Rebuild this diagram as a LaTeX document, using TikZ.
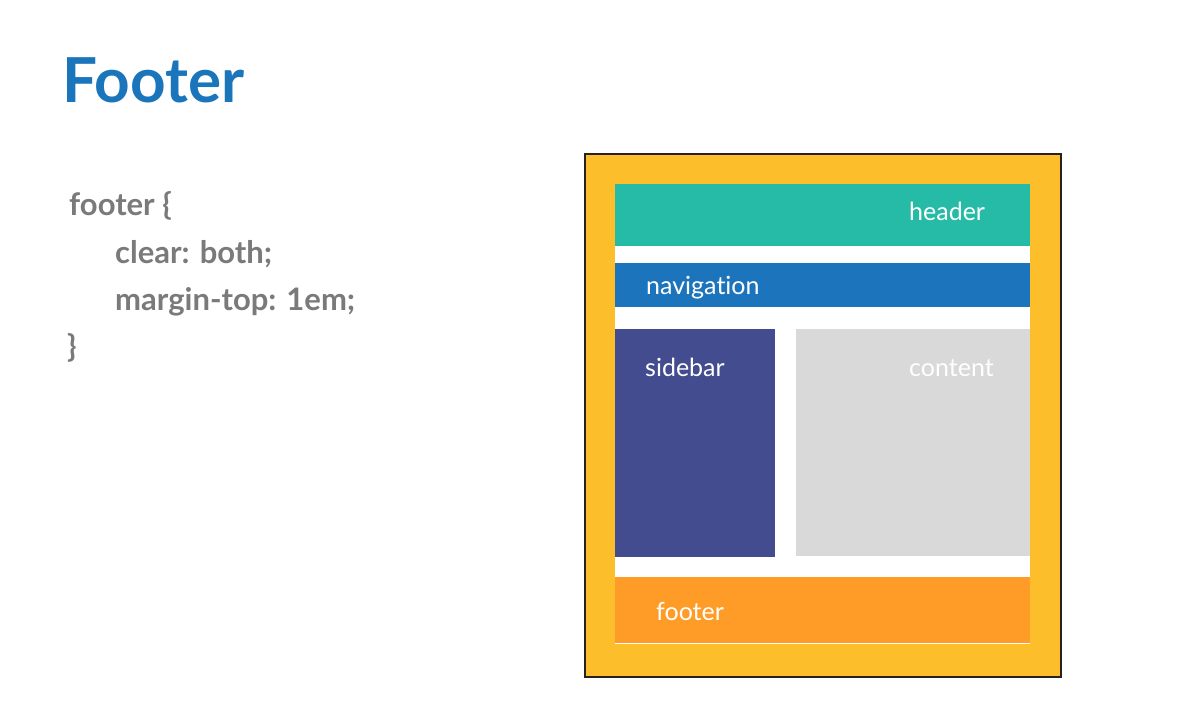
\documentclass[tikz,border=0pt]{standalone}
\usepackage{fontspec}
\setmainfont[Ligatures=NoCommon]{Lato}
\definecolor{titleblue}{HTML}{1B75BB}
\definecolor{codegray}{HTML}{7A7A7A}
\definecolor{frameyellow}{HTML}{FDBE2B}
\definecolor{frameline}{HTML}{2A2020}
\definecolor{headerteal}{HTML}{26BBA7}
\definecolor{navblue}{HTML}{1C75BC}
\definecolor{sideindigo}{HTML}{434C8E}
\definecolor{contentgray}{HTML}{D9D9D9}
\definecolor{footerorange}{HTML}{FE9C27}
\begin{document}
\begin{tikzpicture}[x=1pt,y=-1pt,
  region/.style={draw=none, inner sep=0pt, anchor=north west},
  boxlabel/.style={text=white, font=\fontsize{25}{29}\selectfont, inner sep=0pt, anchor=base west},
  codeline/.style={text=codegray, font=\fontsize{31}{36}\selectfont\bfseries, anchor=base west, inner sep=0pt}]
\useasboundingbox (0,0) rectangle (1187,719);
\fill[white] (0,0) rectangle (1187,719);

% slide title and CSS rule
\node[text=titleblue, font=\fontsize{62}{68}\selectfont\bfseries, anchor=base west, inner sep=0pt] (title) at (62,103) {Footer};
\node[codeline] (c1) at (69,216) {footer \{};
\node[codeline] (c2) at (115,264) {clear: both;};
\node[codeline] (c3) at (115,311) {margin-top: 1em;};
\node[codeline] (c4) at (67,358) {\}};

% page layout mock-up
\node[region, fill=frameyellow, draw=frameline, line width=2pt, minimum width=476pt, minimum height=523pt] (page) at (584,153) {};
\node[region, fill=white, minimum width=415pt, minimum height=460pt] (body) at (615,184) {};
\node[region, fill=headerteal, minimum width=415pt, minimum height=62pt] (header) at (615,184) {};
\node[region, fill=navblue, minimum width=415pt, minimum height=44pt] (nav) at (615,263) {};
\node[region, fill=sideindigo, minimum width=160pt, minimum height=228pt] (sidebar) at (615,329) {};
\node[region, fill=contentgray, minimum width=234pt, minimum height=227pt] (content) at (796,329) {};
\node[region, fill=footerorange, minimum width=415pt, minimum height=66pt] (footer) at (615,577) {};

% region labels
\node[boxlabel] (lheader) at (909,221) {header};
\node[boxlabel] (lnav) at (646,295) {navigation};
\node[boxlabel] (lside) at (645,377) {sidebar};
\node[boxlabel] (lcontent) at (909,377) {content};
\node[boxlabel] (lfooter) at (656,620) {footer};
\end{tikzpicture}
\end{document}
